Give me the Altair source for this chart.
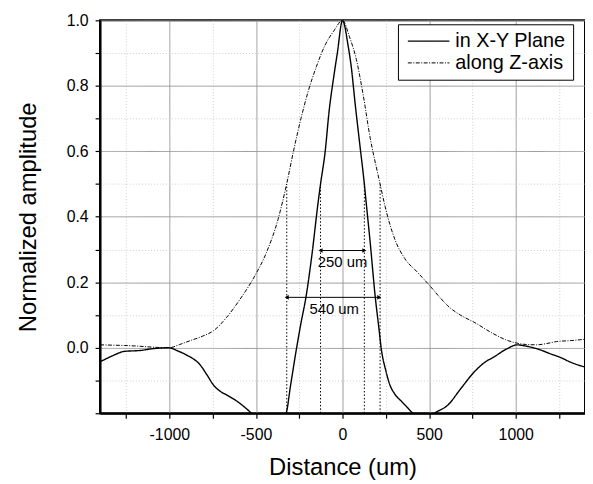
import altair as alt
import pandas as pd

# ---- data ----
series_names = ["in X-Y Plane", "along Z-axis"]

xy_x = [-1400, -1330, -1259, -1164, -1100, -1002, -950, -897, -821, -780, -745, -700, -669,
        -592, -526, -480, -430, -380, -326, -300, -265, -240, -211, -180, -139, -127, -100,
        -78, -50, -30, 0, 33, 50, 74, 100, 126, 135, 160, 189, 210, 223, 250, 274, 300, 341,
        370, 406, 470, 531, 608, 684, 760, 820, 874, 950, 1008, 1050, 1103, 1150, 1198, 1260,
        1312, 1400]
xy_y = [-0.043, -0.025, -0.011, -0.008, -0.003, 0.0, -0.010, -0.023, -0.053, -0.085, -0.114,
        -0.135, -0.144, -0.170, -0.200, -0.225, -0.240, -0.230, -0.200, -0.115, 0.0, 0.075,
        0.155, 0.270, 0.452, 0.50, 0.60, 0.72, 0.83, 0.90, 1.0, 0.92, 0.86, 0.74, 0.62, 0.50,
        0.452, 0.32, 0.155, 0.06, 0.0, -0.07, -0.114, -0.140, -0.164, -0.180, -0.200, -0.225,
        -0.200, -0.175, -0.124, -0.074, -0.045, -0.028, -0.003, 0.009, 0.006, 0.0, -0.008,
        -0.018, -0.030, -0.043, -0.059]

z_x = [-1400, -1330, -1259, -1180, -1100, -1002, -940, -878, -810, -745, -669, -592, -507,
       -440, -373, -326, -278, -240, -200, -150, -100, -50, 0, 40, 80, 120, 160, 200, 217, 246,
       303, 360, 430, 503, 560, 608, 680, 760, 874, 940, 1008, 1060, 1122, 1180, 1236, 1320, 1400]
z_y = [0.009, 0.008, 0.007, 0.005, 0.002, 0.0, 0.010, 0.022, 0.035, 0.052, 0.093, 0.148, 0.219,
       0.290, 0.391, 0.492, 0.613, 0.700, 0.780, 0.860, 0.925, 0.968, 1.0, 0.95, 0.88, 0.77,
       0.64, 0.54, 0.50, 0.431, 0.330, 0.272, 0.232, 0.190, 0.155, 0.128, 0.100, 0.078, 0.042,
       0.025, 0.014, 0.010, 0.009, 0.013, 0.019, 0.022, 0.026]

# annotation values (data space)
marker_x = [-322, -127, 126, 217]
marker_y0 = [-0.2, -0.2, -0.2, -0.2]
marker_y1 = [0.5, 0.5, 0.5, 0.5]

arrow_x1 = [-127, -322]
arrow_x2 = [126, 212]
arrow_y = [0.297, 0.154]

label_text = ["250 um", "540 um"]
label_x = [0, -48]
label_y = [0.262, 0.118]

x_ticks = [-1250, -1000, -750, -500, -250, 0, 250, 500, 750, 1000, 1250]
y_ticks = [-0.2, -0.1, 0.0, 0.1, 0.2, 0.3, 0.4, 0.5, 0.6, 0.7, 0.8, 0.9, 1.0]

# ---- tables ----
lines_df = pd.concat([
    pd.DataFrame({"x": xy_x, "y": xy_y, "series": series_names[0]}),
    pd.DataFrame({"x": z_x, "y": z_y, "series": series_names[1]}),
], ignore_index=True)

markers_df = pd.DataFrame({"x": marker_x, "y": marker_y0, "y2": marker_y1})
arrows_df = pd.DataFrame({"x": arrow_x1, "x2": arrow_x2, "y": arrow_y})
heads_df = pd.DataFrame({
    "x": arrow_x1 + arrow_x2,
    "y": arrow_y + arrow_y,
    "dir": ["L"] * len(arrow_x1) + ["R"] * len(arrow_x2),
})
labels_df = pd.DataFrame({"x": label_x, "y": label_y, "label": label_text})

FONT = "Liberation Sans"

minor_x = "datum.value % 500 != 0"
minor_y = "abs(round(datum.value * 10)) % 2 == 1"

x_enc = alt.X(
    "x:Q",
    scale=alt.Scale(domain=[-1400, 1400], nice=False, zero=False),
    axis=alt.Axis(
        values=x_ticks,
        labelExpr="datum.value % 500 == 0 ? '' + datum.value : ''",
        title="Distance (um)",
        grid=True,
        gridColor={"condition": {"test": minor_x, "value": "#cfcfcf"}, "value": "#9a9a9a"},
        gridDash={"condition": {"test": minor_x, "value": [1, 2]}, "value": [1, 0]},
        gridWidth=1,
        tickSize=5,
        labelPadding=9,
        titlePadding=13,
    ),
)
y_enc = alt.Y(
    "y:Q",
    scale=alt.Scale(domain=[-0.2, 1.0], nice=False, zero=False),
    axis=alt.Axis(
        values=y_ticks,
        labelExpr="datum.value >= 0 && abs(round(datum.value * 10)) % 2 == 0 ? format(datum.value, '.1f') : ''",
        title="Normalized amplitude",
        grid=True,
        gridColor={"condition": {"test": minor_y, "value": "#cfcfcf"}, "value": "#9a9a9a"},
        gridDash={"condition": {"test": minor_y, "value": [1, 2]}, "value": [1, 0]},
        gridWidth=1,
        tickSize=5,
        labelPadding=7,
        titlePadding=26,
    ),
)

lines = alt.Chart(lines_df).mark_line(clip=True, interpolate="monotone", color="black").encode(
    x=x_enc,
    y=y_enc,
    strokeDash=alt.StrokeDash(
        "series:N",
        scale=alt.Scale(domain=series_names, range=[[1, 0], [4, 1.5, 1, 1.5]]),
        legend=alt.Legend(
            title=None,
            orient="none",
            legendX=301,
            legendY=4,
            symbolType="M-1,0H5",
            symbolSize=196,
            symbolStrokeWidth=1.2,
            symbolStrokeColor="black",
            labelFontSize=20,
            labelFont=FONT,
            labelColor="black",
            labelOffset=31,
            fillColor="white",
            strokeColor="black",
            padding=7,
            rowPadding=2,
        ),
    ),
    strokeWidth=alt.StrokeWidth(
        "series:N",
        scale=alt.Scale(domain=series_names, range=[1.4, 1.0]),
        legend=None,
    ),
)

markers = alt.Chart(markers_df).mark_rule(color="black", strokeWidth=1, strokeDash=[1.5, 2]).encode(
    x=x_enc, y=y_enc, y2="y2:Q"
)

arrows = alt.Chart(arrows_df).mark_rule(color="black", strokeWidth=1).encode(
    x=x_enc, x2="x2:Q", y=y_enc
)

heads = alt.Chart(heads_df).mark_point(filled=True, color="black", size=22, opacity=1).encode(
    x=x_enc,
    y=y_enc,
    shape=alt.Shape("dir:N", scale=alt.Scale(domain=["L", "R"], range=["triangle-left", "triangle-right"]), legend=None),
)

labels = alt.Chart(labels_df).mark_text(fontSize=15, font=FONT, color="black", align="center", baseline="middle").encode(
    x=x_enc, y=y_enc, text="label:N"
)

chart = alt.layer(markers, arrows, heads, labels, lines).properties(
    width=490,
    height=397,
    autosize=alt.AutoSizeParams(type="none"),
    padding={"left": 93, "top": 10, "right": 0, "bottom": 68},
).configure(
    font=FONT,
).configure_view(
    stroke="black",
    strokeWidth=2,
).configure_axis(
    domainColor="black",
    domainWidth=2,
    tickColor="black",
    tickWidth=1.2,
    labelFontSize=16,
    labelFont=FONT,
    labelColor="black",
    titleFont=FONT,
    titleFontSize=24,
    titleFontWeight="normal",
    titleColor="black",
)

chart.save("out.html", embed_options={"renderer": "svg", "actions": False})
